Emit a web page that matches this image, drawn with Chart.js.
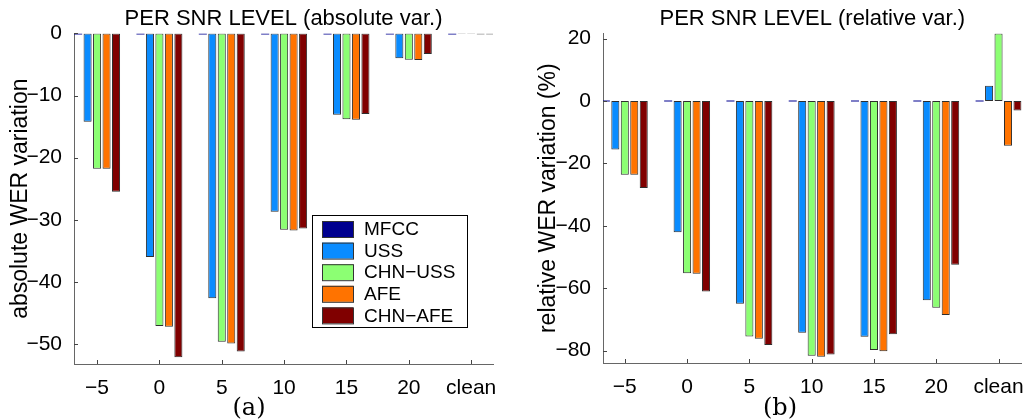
<!DOCTYPE html>
<html>
<head>
<meta charset="utf-8">
<script src="https://cdn.jsdelivr.net/npm/chart.js@4"></script>
<style>
  body { margin: 0; background: #fff; }
  canvas { position: absolute; top: 0; }
  #absChart { left: 0; }
  #relChart { left: 510px; }
</style>
</head>
<body>
<canvas id="absChart" width="510" height="420"></canvas>
<canvas id="relChart" width="518" height="420"></canvas>
<script>
// SNR levels on the x axis
const snrLevels = ['−5', '0', '5', '10', '15', '20', 'clean'];
const seriesNames = ['MFCC', 'USS', 'CHN−USS', 'AFE', 'CHN−AFE'];
const seriesColors = ['#00008f', '#0a8cff', '#8cff73', '#ff7300', '#800000'];

// (a) absolute WER variation
const absMFCC   = [0, 0, 0, 0, 0, 0, 0];
const absUSS    = [-14.2, -36.0, -42.6, -28.7, -13.1, -4.0, 0.05];
const absCHNUSS = [-21.8, -47.1, -49.6, -31.6, -13.8, -4.25, 0.2];
const absAFE    = [-21.8, -47.2, -49.9, -31.7, -13.9, -4.3, -0.05];
const absCHNAFE = [-25.5, -52.1, -51.2, -31.4, -12.95, -3.3, -0.05];
const absTicks  = [-50, -40, -30, -20, -10, 0];

// (b) relative WER variation (%)
const relMFCC   = [0, 0, 0, 0, 0, 0, 0];
const relUSS    = [-15.5, -42.1, -65.0, -74.3, -75.6, -63.9, 4.9];
const relCHNUSS = [-23.6, -55.2, -75.5, -81.7, -79.8, -66.3, 21.7];
const relAFE    = [-23.6, -55.4, -76.2, -82.0, -80.2, -68.6, -14.3];
const relCHNAFE = [-27.9, -61.1, -78.2, -81.3, -74.8, -52.5, -3.0];
const relTicks  = [-80, -60, -40, -20, 0, 20];

Chart.defaults.font.family = '"Liberation Sans", Arial, sans-serif';
Chart.defaults.color = '#000';

const minusFmt = v => (v < 0 ? '−' + Math.abs(v) : String(v));

function buildDatasets(seriesData) {
  return seriesData.map((vals, i) => ({
    label: seriesNames[i],
    data: vals.map((v, k) => ({ x: k, y: v })),
    backgroundColor: seriesColors[i],
    borderColor: i === 0 ? '#000050' : '#2e2e2e',
    borderWidth: i === 0 ? 0 : 1,
    borderSkipped: false,
    minBarLength: 1, // zero bars still show as a dash, like matlab
    categoryPercentage: 0.76,
    barPercentage: 0.85
  }));
}

// matlab style ticks pointing into the plot
const innerTicks = {
  id: 'innerTicks',
  afterDatasetsDraw(chart) {
    const { ctx, chartArea, scales } = chart;
    ctx.save();
    ctx.strokeStyle = '#444';
    ctx.lineWidth = 1;
    ctx.beginPath();
    scales.x.ticks.forEach(t => {
      const px = Math.round(scales.x.getPixelForValue(t.value)) + 0.5;
      ctx.moveTo(px, chartArea.bottom);
      ctx.lineTo(px, chartArea.bottom - 4);
    });
    scales.y.ticks.forEach(t => {
      const py = Math.round(scales.y.getPixelForValue(t.value)) + 0.5;
      ctx.moveTo(chartArea.left, py);
      ctx.lineTo(chartArea.left + 4, py);
    });
    ctx.stroke();
    ctx.restore();
  }
};

function boxLegend(box) {
  return {
    id: 'boxLegend',
    afterDraw(chart) {
      const ctx = chart.ctx;
      ctx.save();
      ctx.fillStyle = '#fff';
      ctx.fillRect(box.x, box.y, box.w, box.h);
      ctx.strokeStyle = '#000';
      ctx.lineWidth = 1;
      ctx.strokeRect(box.x + 0.5, box.y + 0.5, box.w, box.h);
      ctx.font = '19px "Liberation Sans"';
      ctx.textBaseline = 'middle';
      chart.data.datasets.forEach((ds, i) => {
        const top = box.y + 6 + i * 21.6;
        ctx.fillStyle = ds.backgroundColor;
        ctx.fillRect(box.x + 10, top, 31, 16);
        ctx.strokeStyle = '#333';
        ctx.strokeRect(box.x + 10.5, top + 0.5, 31, 16);
        ctx.fillStyle = '#000';
        ctx.fillText(ds.label, box.x + 52, top + 9);
      });
      ctx.restore();
    }
  };
}

function caption(text, x, y) {
  return {
    id: 'caption',
    afterDraw(chart) {
      const ctx = chart.ctx;
      ctx.save();
      ctx.font = '24px "DejaVu Serif"';
      ctx.fillStyle = '#000';
      ctx.textAlign = 'center';
      ctx.textBaseline = 'middle';
      ctx.fillText(text, x, y);
      ctx.restore();
    }
  };
}

function makeChart(id, opts) {
  return new Chart(document.getElementById(id), {
    type: 'bar',
    data: { datasets: buildDatasets(opts.series) },
    options: {
      responsive: false,
      animation: false,
      layout: { padding: { left: 0, right: opts.padRight, top: 0, bottom: 0 } },
      plugins: {
        legend: { display: false },
        tooltip: { enabled: false },
        title: {
          display: true,
          text: opts.title,
          fullSize: false,
          color: '#000',
          font: { size: 22, weight: 'normal' },
          padding: { top: 6, bottom: 1 }
        }
      },
      scales: {
        x: {
          type: 'linear',
          offset: false,
          min: opts.xMin,
          max: opts.xMax,
          afterBuildTicks: s => { s.ticks = snrLevels.map((_, i) => ({ value: i })); },
          afterFit: s => { s.height = opts.xHeight; },
          ticks: {
            callback: v => snrLevels[v],
            font: { size: 21 },
            padding: 4,
            autoSkip: false,
            maxRotation: 0
          },
          grid: { display: false, offset: false },
          border: { display: true, color: '#666' }
        },
        y: {
          min: opts.yMin,
          max: opts.yMax,
          afterBuildTicks: s => { s.ticks = opts.yTicks.map(v => ({ value: v })); },
          afterFit: s => { s.width = opts.yWidth; },
          ticks: { callback: minusFmt, font: { size: 21 }, padding: 4 },
          grid: { display: false },
          border: { display: true, color: '#666' },
          title: {
            display: true,
            text: opts.yTitle,
            font: { size: 23 },
            padding: { top: opts.yTitlePad, bottom: 0 }
          }
        }
      }
    },
    plugins: opts.plugins
  });
}

makeChart('absChart', {
  series: [absMFCC, absUSS, absCHNUSS, absAFE, absCHNAFE],
  title: 'PER SNR LEVEL (absolute var.)',
  yTitle: 'absolute WER variation',
  yTicks: absTicks,
  yMin: -53.2, yMax: 0,
  xMin: -0.37, xMax: 6.35,
  yWidth: 74, yTitlePad: 7,
  xHeight: 56, padRight: 17,
  plugins: [innerTicks, boxLegend({ x: 312, y: 215, w: 155, h: 112 }), caption('(a)', 249, 409)]
});

makeChart('relChart', {
  series: [relMFCC, relUSS, relCHNUSS, relAFE, relCHNAFE],
  title: 'PER SNR LEVEL (relative var.)',
  yTitle: 'relative WER variation (%)',
  yTicks: relTicks,
  yMin: -84, yMax: 21.7,
  xMin: -0.35, xMax: 6.37,
  yWidth: 93, yTitlePad: 25,
  xHeight: 57, padRight: 6,
  plugins: [innerTicks, caption('(b)', 270, 409)]
});
</script>
</body>
</html>
